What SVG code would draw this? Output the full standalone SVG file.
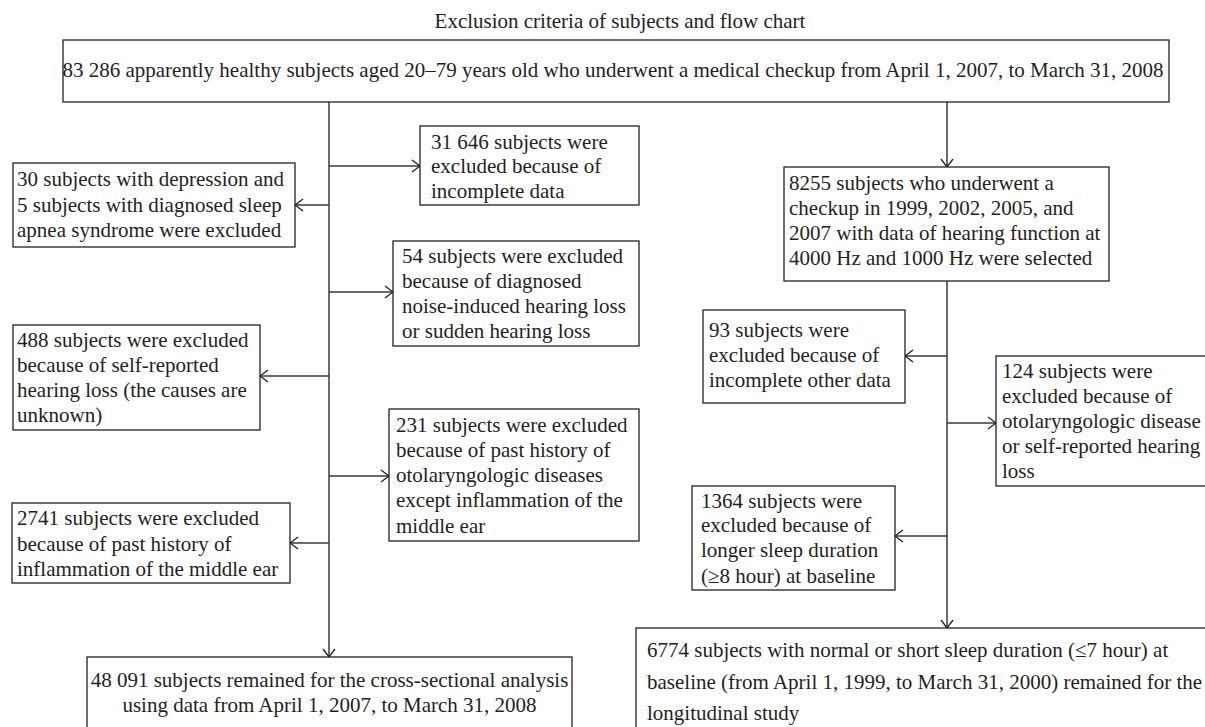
<svg xmlns="http://www.w3.org/2000/svg" width="1205" height="727" viewBox="0 0 1205 727">
<style>
.box{fill:#fff;stroke:#231f20;stroke-width:1.3}
.t{font-family:"Liberation Serif","Times New Roman",serif;font-size:21px;fill:#231f20}
.ln{stroke:#3a3a3a;stroke-width:1.5;fill:none}
</style>
<defs>
<marker id="ah" markerUnits="userSpaceOnUse" markerWidth="10" markerHeight="14" viewBox="0 0 10 14" refX="9" refY="7" orient="auto">
<path d="M1,1 L9,7 L1,13" fill="none" stroke="#231f20" stroke-width="1.3"/>
</marker>
</defs>
<rect width="1205" height="727" fill="#fff"/>
<text class="t" x="620" y="28" text-anchor="middle">Exclusion criteria of subjects and flow chart</text>
<g id="connectors">
<path class="ln" d="M329,102 V657" marker-end="url(#ah)"/>
<path class="ln" d="M329,166 H420" marker-end="url(#ah)"/>
<path class="ln" d="M329,205 H295" marker-end="url(#ah)"/>
<path class="ln" d="M329,292 H393" marker-end="url(#ah)"/>
<path class="ln" d="M329,376 H260" marker-end="url(#ah)"/>
<path class="ln" d="M329,476 H389" marker-end="url(#ah)"/>
<path class="ln" d="M329,543 H290" marker-end="url(#ah)"/>
<path class="ln" d="M947,102 V167" marker-end="url(#ah)"/>
<path class="ln" d="M947,281 V628" marker-end="url(#ah)"/>
<path class="ln" d="M947,356 H905" marker-end="url(#ah)"/>
<path class="ln" d="M947,423 H996" marker-end="url(#ah)"/>
<path class="ln" d="M947,536 H895" marker-end="url(#ah)"/>
</g>
<g id="n-top">
<rect class="box" x="63" y="40" width="1106" height="62"/>
<text class="t" x="613" y="77" text-anchor="middle">83 286 apparently healthy subjects aged 20–79 years old who underwent a medical checkup from April 1, 2007, to March 31, 2008</text>
</g>
<g id="n-31646">
<rect class="box" x="420" y="126" width="219" height="79"/>
<text class="t" x="431" y="149">31 646 subjects were</text>
<text class="t" x="431" y="173">excluded because of</text>
<text class="t" x="431" y="198">incomplete data</text>
</g>
<g id="n-30">
<rect class="box" x="13" y="163" width="282" height="84"/>
<text class="t" x="17" y="186">30 subjects with depression and</text>
<text class="t" x="17" y="212">5 subjects with diagnosed sleep</text>
<text class="t" x="17" y="237">apnea syndrome were excluded</text>
</g>
<g id="n-54">
<rect class="box" x="393" y="241" width="246" height="105"/>
<text class="t" x="402" y="263">54 subjects were excluded</text>
<text class="t" x="402" y="288">because of diagnosed</text>
<text class="t" x="402" y="313">noise-induced hearing loss</text>
<text class="t" x="402" y="338">or sudden hearing loss</text>
</g>
<g id="n-488">
<rect class="box" x="13" y="325" width="247" height="105"/>
<text class="t" x="17" y="347">488 subjects were excluded</text>
<text class="t" x="17" y="372">because of self-reported</text>
<text class="t" x="17" y="397">hearing loss (the causes are</text>
<text class="t" x="17" y="422">unknown)</text>
</g>
<g id="n-231">
<rect class="box" x="389" y="409" width="250" height="132"/>
<text class="t" x="396" y="432">231 subjects were excluded</text>
<text class="t" x="396" y="457">because of past history of</text>
<text class="t" x="396" y="482">otolaryngologic diseases</text>
<text class="t" x="396" y="507">except inflammation of the</text>
<text class="t" x="396" y="533">middle ear</text>
</g>
<g id="n-2741">
<rect class="box" x="12" y="503" width="278" height="80"/>
<text class="t" x="17" y="525">2741 subjects were excluded</text>
<text class="t" x="17" y="551">because of past history of</text>
<text class="t" x="17" y="576">inflammation of the middle ear</text>
</g>
<g id="n-48091">
<rect class="box" x="87" y="657" width="485" height="90"/>
<text class="t" x="329.5" y="687" text-anchor="middle">48 091 subjects remained for the cross-sectional analysis</text>
<text class="t" x="329.5" y="712" text-anchor="middle">using data from April 1, 2007, to March 31, 2008</text>
</g>
<g id="n-8255">
<rect class="box" x="784" y="167" width="325" height="114"/>
<text class="t" x="789" y="190">8255 subjects who underwent a</text>
<text class="t" x="789" y="215">checkup in 1999, 2002, 2005, and</text>
<text class="t" x="789" y="240">2007 with data of hearing function at</text>
<text class="t" x="789" y="265">4000 Hz and 1000 Hz were selected</text>
</g>
<g id="n-93">
<rect class="box" x="703" y="310" width="202" height="93"/>
<text class="t" x="709" y="337">93 subjects were</text>
<text class="t" x="709" y="362">excluded because of</text>
<text class="t" x="709" y="387">incomplete other data</text>
</g>
<g id="n-124">
<rect class="box" x="996" y="356" width="215" height="130"/>
<text class="t" x="1002" y="378">124 subjects were</text>
<text class="t" x="1002" y="403">excluded because of</text>
<text class="t" x="1002" y="428">otolaryngologic disease</text>
<text class="t" x="1002" y="453">or self-reported hearing</text>
<text class="t" x="1002" y="478">loss</text>
</g>
<g id="n-1364">
<rect class="box" x="692" y="486" width="203" height="104"/>
<text class="t" x="701" y="508">1364 subjects were</text>
<text class="t" x="701" y="532">excluded because of</text>
<text class="t" x="701" y="557">longer sleep duration</text>
<text class="t" x="701" y="583">(≥8 hour) at baseline</text>
</g>
<g id="n-6774">
<rect class="box" x="636" y="628" width="580" height="110"/>
<text class="t" x="647" y="657">6774 subjects with normal or short sleep duration (≤7 hour) at</text>
<text class="t" x="647" y="689">baseline (from April 1, 1999, to March 31, 2000) remained for the</text>
<text class="t" x="647" y="720">longitudinal study</text>
</g>
</svg>
